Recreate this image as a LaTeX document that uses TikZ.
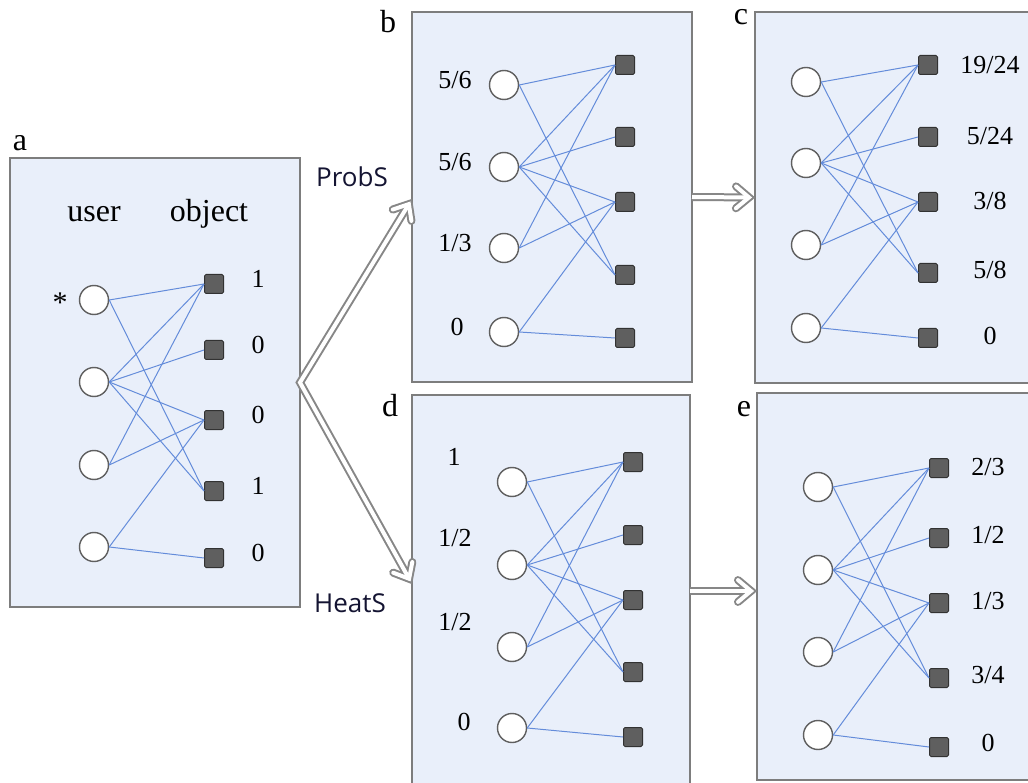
\documentclass[tikz,border=0pt]{standalone}
\usepackage{fontspec}
\setmainfont{Liberation Serif}
\newfontfamily\uisans{Open Sans}
\usetikzlibrary{calc}
\definecolor{pfill}{RGB}{233,239,250}
\definecolor{pline}{RGB}{125,125,125}
\definecolor{aline}{RGB}{135,135,135}
\definecolor{edgeblue}{RGB}{100,140,218}
\definecolor{sqfill}{RGB}{95,95,95}
\definecolor{sqline}{RGB}{50,50,50}
\definecolor{cline}{RGB}{95,95,95}
\definecolor{algotext}{RGB}{20,20,50}
\newcommand\bipedges[1]{%
  \foreach \u/\o in {1/1,1/4,2/1,2/2,2/3,2/4,3/1,3/3,4/3,4/5}
    \draw[lnk] (#1u\u.east) -- (#1o\o.west);}
\begin{document}
\begin{tikzpicture}[x=1pt,y=-1pt,
  panel/.style={draw=pline,line width=1.5pt,fill=pfill,inner sep=0,outer sep=0},
  user/.style={circle,draw=cline,line width=1.4pt,fill=white,minimum size=29pt,inner sep=0},
  obj/.style={rectangle,draw=sqline,line width=1pt,fill=sqfill,minimum size=19pt,inner sep=0,rounded corners=1.5pt},
  lnk/.style={edgeblue,line width=1pt},
  num/.style={font=\fontsize{26}{28}\selectfont,inner sep=0,text height=0.68em,text depth=0pt},
  hdr/.style={font=\fontsize{32}{34}\selectfont,inner sep=0,anchor=base},
  plabel/.style={font=\fontsize{32}{34}\selectfont,inner sep=0,anchor=base},
  algo/.style={font=\uisans\fontsize{26}{28}\selectfont,text=algotext,inner sep=0},
  shaft/.style={line join=miter,miter limit=10,line cap=butt},
  chev/.style={line join=miter,miter limit=10,line cap=round},
]
\clip (0,0) rectangle (1028,783);
\fill[white] (0,0) rectangle (1028,783);

% panels
\node[panel,minimum width=290pt,minimum height=449pt] (pa) at (155,382.5) {};
\node[panel,minimum width=280pt,minimum height=370pt] (pb) at (552,197) {};
\node[panel,minimum width=290pt,minimum height=371pt] (pc) at (900,197.5) {};
\node[panel,minimum width=278pt,minimum height=425pt] (pd) at (551,607.5) {};
\node[panel,minimum width=288pt,minimum height=387pt] (pe) at (901,586.5) {};

% panel letters
\node[plabel] (la) at (20,151) {a};
\node[plabel] (lb) at (388,33) {b};
\node[plabel] (lc) at (741,25) {c};
\node[plabel] (ld) at (390,417) {d};
\node[plabel] (le) at (744,417) {e};

% panel a
\node[hdr] (huser) at (94,222) {user};
\node[hdr] (hobj) at (209,222) {object};
\node[font=\fontsize{30}{30}\selectfont,inner sep=0] (star) at (60,303) {*};
\foreach \y [count=\i] in {300,382,465,547} \node[user] (au\i) at (94,\y) {};
\foreach \y [count=\i] in {284,350,420,491,558} \node[obj] (ao\i) at (214,\y) {};
\foreach \y/\t [count=\i] in {284/1,350/0,420/0,491/1,558/0} \node[num] (av\i) at (258,\y) {\t};
\bipedges{a}

% panel b
\foreach \y [count=\i] in {85,167,248,332} \node[user] (bu\i) at (504,\y) {};
\foreach \y [count=\i] in {65,137,202,275,338} \node[obj] (bo\i) at (625,\y) {};
\foreach \y/\t/\x [count=\i] in {85/5\slash 6/455,167/5\slash 6/455,248/1\slash 3/455,332/0/457} \node[num] (bv\i) at (\x,\y) {\t};
\bipedges{b}

% panel c
\foreach \y [count=\i] in {82,163,245,328} \node[user] (cu\i) at (806,\y) {};
\foreach \y [count=\i] in {65,137,202,273,338} \node[obj] (co\i) at (928,\y) {};
\foreach \y/\t [count=\i] in {70/19\slash 24,141/5\slash 24,206/3\slash 8,275/5\slash 8,341/0} \node[num] (cv\i) at (990,\y) {\t};
\bipedges{c}

% panel d
\foreach \y [count=\i] in {482,565,647,728} \node[user] (du\i) at (512,\y) {};
\foreach \y [count=\i] in {462,535,600,672,737} \node[obj] (do\i) at (633,\y) {};
\foreach \y/\t/\x [count=\i] in {462/1/454,543/1\slash 2/455,627/1\slash 2/455,727/0/464} \node[num] (dv\i) at (\x,\y) {\t};
\bipedges{d}

% panel e
\foreach \y [count=\i] in {487,570,652,735} \node[user] (eu\i) at (818,\y) {};
\foreach \y [count=\i] in {468,538,603,678,747} \node[obj] (eo\i) at (939,\y) {};
\foreach \y/\t [count=\i] in {472/2\slash 3,540/1\slash 2,606/1\slash 3,680/3\slash 4,748/0} \node[num] (ev\i) at (988,\y) {\t};
\bipedges{e}

% flow arrows (hollow double-line arrows)
\coordinate (bIn) at (412,199);
\coordinate (dIn) at (412,584);
\coordinate (dOut) at (690,591);
\coordinate (eIn) at (757,591);
\path ($(bIn)!6pt!(pa.east)$) coordinate (vb)
      ($(dIn)!6pt!(pa.east)$) coordinate (vd)
      ($(pc.west)!6pt!(pb.east)$) coordinate (vc)
      ($(eIn)!6pt!(dOut)$) coordinate (ve);
\foreach \w/\c in {8pt/aline,4pt/white}{
  \draw[shaft,line width=\w,draw=\c] (vb) -- (pa.east) -- (vd);
  \draw[shaft,line width=\w,draw=\c] (pb.east) -- (vc);
  \draw[shaft,line width=\w,draw=\c] (dOut) -- (ve);
  \foreach \v/\s in {vb/pa.east,vd/pa.east,vc/pb.east,ve/dOut}
    \draw[chev,line width=\w,draw=\c] ($(\v)!17pt!40:(\s)$) -- (\v) -- ($(\v)!17pt!-40:(\s)$);
}
\node[algo] (probs) at (352,177) {ProbS};
\node[algo] (heats) at (350,603) {HeatS};
\end{tikzpicture}
\end{document}
